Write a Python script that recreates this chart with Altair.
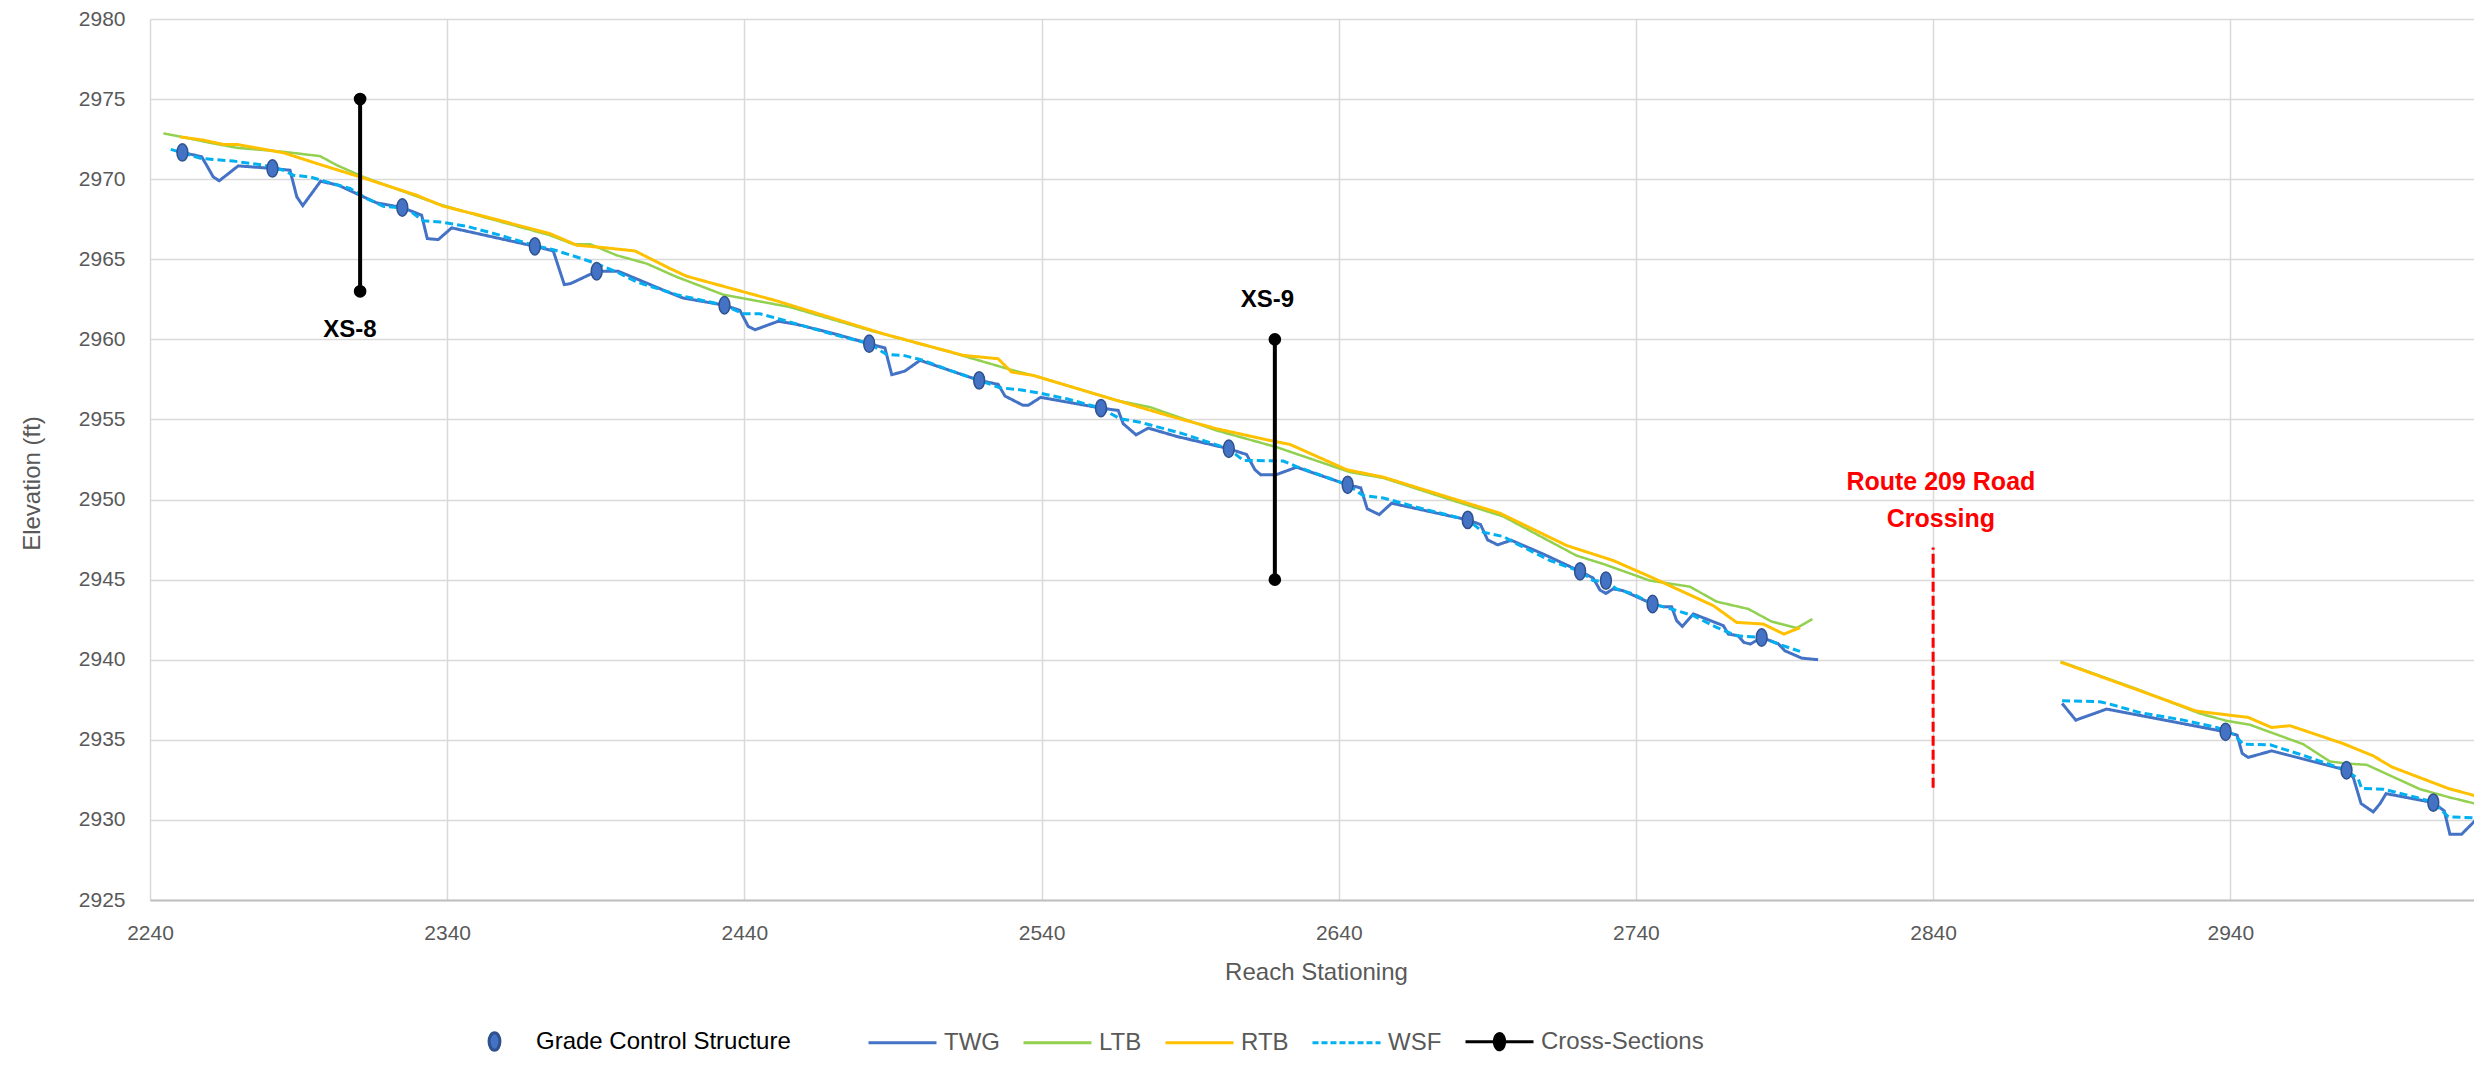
import altair as alt
import pandas as pd

FONT = "Liberation Sans"

# ---------------- data ----------------
gcs_name = "Grade Control Structure"
line_names = ["TWG", "LTB", "RTB", "WSF", "Cross-Sections"]

twg1_s = [2250.9, 2257.4, 2261.3, 2263.3, 2269.7, 2281.2, 2287.1, 2289.4, 2291.4, 2297.4, 2303.4, 2311.8,
          2316.3, 2324.9, 2331.4, 2333.3, 2337.0, 2341.5, 2369.5, 2375.7, 2379.4, 2381.5, 2390.3, 2397.6,
          2415.0, 2419.4, 2433.3, 2438.5, 2441.3, 2443.6, 2451.4, 2457.6, 2471.1, 2482.0, 2487.3, 2489.6,
          2494.0, 2499.1, 2519.0, 2525.4, 2527.7, 2533.8, 2535.5, 2539.7, 2560.0, 2565.8, 2567.5, 2571.8,
          2575.9, 2585.5, 2603.0, 2609.0, 2611.8, 2613.8, 2619.1, 2625.8, 2643.0, 2647.4, 2649.6, 2653.6,
          2657.8, 2683.4, 2687.7, 2690.1, 2693.5, 2698.0, 2708.8, 2721.2, 2725.6, 2727.9, 2729.9, 2732.4,
          2735.7, 2745.6, 2749.2, 2752.0, 2753.7, 2755.6, 2759.3, 2769.4, 2771.1, 2774.4, 2776.3, 2778.5,
          2782.3, 2787.9, 2790.1, 2795.8, 2801.3]
twg1_e = [2971.67, 2971.40, 2970.14, 2969.90, 2970.83, 2970.67, 2970.56, 2968.90, 2968.35, 2969.87, 2969.62, 2968.90,
          2968.52, 2968.23, 2967.75, 2966.29, 2966.23, 2966.96, 2965.81, 2965.52, 2963.42, 2963.48, 2964.25, 2964.25,
          2962.90, 2962.58, 2962.13, 2961.81, 2960.81, 2960.60, 2961.13, 2960.94, 2960.31, 2959.73, 2959.46, 2957.79,
          2958.02, 2958.69, 2957.44, 2957.19, 2956.46, 2955.88, 2955.88, 2956.38, 2955.71, 2955.56, 2954.73, 2954.04,
          2954.46, 2953.94, 2953.17, 2952.81, 2951.86, 2951.54, 2951.56, 2952.02, 2950.92, 2950.73, 2949.42, 2949.06,
          2949.77, 2948.73, 2948.44, 2947.48, 2947.17, 2947.46, 2946.60, 2945.52, 2945.10, 2944.35, 2944.14, 2944.42,
          2944.31, 2943.48, 2943.31, 2943.31, 2942.44, 2942.08, 2942.86, 2942.13, 2941.60, 2941.50, 2941.08, 2940.98,
          2941.39, 2941.00, 2940.56, 2940.10, 2940.00]
twg2_s = [2883.4, 2888.0, 2898.4, 2938.4, 2942.3, 2944.0, 2946.0, 2953.9, 2979.1, 2981.4, 2984.0, 2988.1,
          2990.4, 2992.4, 3008.3, 3012.0, 3013.9, 3017.8, 3022.3, 3024.6]
twg2_e = [2937.27, 2936.23, 2936.92, 2935.50, 2935.29, 2934.15, 2933.90, 2934.31, 2933.10, 2932.64, 2931.02, 2930.50,
          2931.02, 2931.64, 2931.08, 2930.56, 2929.10, 2929.10, 2929.94, 2929.83]

wsf1_s = [2247.0, 2257.4, 2268.0, 2278.1, 2284.9, 2288.2, 2293.8, 2299.5, 2307.3, 2312.9, 2318.5, 2324.9,
          2328.6, 2332.0, 2337.6, 2346.6, 2357.8, 2369.5, 2375.7, 2383.6, 2390.3, 2397.0, 2403.8, 2417.2,
          2433.3, 2439.6, 2445.2, 2451.4, 2471.1, 2482.0, 2487.9, 2493.5, 2500.2, 2509.2, 2519.0, 2526.0,
          2532.7, 2539.5, 2548.4, 2560.0, 2566.4, 2573.1, 2587.7, 2603.0, 2607.9, 2612.4, 2621.3, 2625.8,
          2643.0, 2648.2, 2655.0, 2666.2, 2683.4, 2688.6, 2695.4, 2699.9, 2711.1, 2721.2, 2725.6, 2729.9,
          2733.5, 2739.1, 2745.6, 2751.4, 2759.3, 2767.1, 2773.9, 2782.3, 2788.5, 2795.2]
wsf1_e = [2971.86, 2971.29, 2971.13, 2970.88, 2970.56, 2970.25, 2970.14, 2969.83, 2969.42, 2968.79, 2968.31, 2968.20,
          2967.86, 2967.40, 2967.33, 2967.06, 2966.50, 2965.85, 2965.60, 2965.14, 2964.73, 2964.21, 2963.58, 2962.79,
          2962.13, 2961.60, 2961.60, 2961.29, 2960.25, 2959.73, 2959.06, 2959.00, 2958.69, 2958.06, 2957.44, 2956.98,
          2956.85, 2956.64, 2956.29, 2955.71, 2955.04, 2954.83, 2954.10, 2953.17, 2952.44, 2952.44, 2952.40, 2952.06,
          2950.92, 2950.25, 2950.10, 2949.52, 2948.73, 2947.96, 2947.69, 2947.23, 2946.19, 2945.52, 2944.94, 2944.90,
          2944.42, 2944.10, 2943.48, 2943.20, 2942.75, 2942.02, 2941.50, 2941.39, 2940.94, 2940.52]
wsf2_s = [2883.4, 2896.1, 2899.5, 2909.6, 2924.2, 2935.4, 2941.0, 2944.4, 2953.4, 2963.4, 2979.1, 2983.1,
          2984.2, 2991.5, 3002.7, 3008.3, 3013.4, 3021.8, 3024.6]
wsf2_e = [2937.44, 2937.38, 2937.23, 2936.70, 2936.23, 2935.77, 2935.35, 2934.73, 2934.69, 2934.10, 2933.10, 2932.54,
          2931.96, 2931.92, 2931.40, 2931.10, 2930.19, 2930.14, 2929.94]

ltb1_s = [2244.5, 2250.7, 2260.2, 2269.2, 2284.9, 2297.2, 2302.8, 2311.8, 2324.1, 2336.5, 2352.2, 2374.6,
          2382.4, 2388.1, 2397.0, 2407.1, 2417.2, 2432.9, 2441.9, 2455.3, 2482.3, 2509.2, 2530.5, 2537.2,
          2565.3, 2576.5, 2598.9, 2619.1, 2643.8, 2655.0, 2677.4, 2695.4, 2720.0, 2729.0, 2744.7, 2758.2,
          2767.1, 2777.8, 2785.7, 2794.1, 2799.4]
ltb1_e = [2972.86, 2972.64, 2972.27, 2971.96, 2971.71, 2971.44, 2970.88, 2970.14, 2969.31, 2968.48, 2967.64, 2966.50,
          2965.94, 2965.94, 2965.25, 2964.73, 2963.90, 2962.79, 2962.48, 2962.02, 2960.56, 2959.21, 2958.06, 2957.75,
          2956.19, 2955.77, 2954.31, 2953.27, 2951.71, 2951.35, 2950.00, 2948.94, 2946.50, 2945.98, 2944.94, 2944.56,
          2943.63, 2943.17, 2942.38, 2941.98, 2942.54]
ltb2_s = [2882.9, 2909.6, 2929.8, 2938.7, 2946.6, 2964.5, 2973.5, 2979.1, 2985.9, 3003.8, 3013.9, 3024.6]
ltb2_e = [2939.88, 2938.10, 2936.64, 2936.19, 2935.94, 2934.73, 2933.65, 2933.52, 2933.44, 2931.92, 2931.40, 2930.92]

rtb1_s = [2250.1, 2257.9, 2264.7, 2269.2, 2284.9, 2296.1, 2310.7, 2329.7, 2338.7, 2352.2, 2374.6, 2383.6,
          2392.5, 2403.2, 2415.0, 2420.6, 2450.9, 2486.7, 2513.7, 2525.4, 2529.9, 2537.2, 2565.3, 2583.2,
          2598.9, 2616.8, 2623.6, 2642.7, 2655.0, 2694.2, 2716.7, 2732.4, 2744.7, 2766.0, 2773.9, 2782.8,
          2789.8, 2795.2]
rtb1_e = [2972.64, 2972.44, 2972.17, 2972.17, 2971.65, 2970.98, 2970.14, 2969.00, 2968.31, 2967.69, 2966.60, 2965.88,
          2965.73, 2965.52, 2964.42, 2963.94, 2962.40, 2960.35, 2959.00, 2958.79, 2957.96, 2957.75, 2956.19, 2955.21,
          2954.42, 2953.69, 2953.44, 2951.86, 2951.40, 2949.15, 2947.13, 2946.19, 2945.19, 2943.38, 2942.33, 2942.23,
          2941.60, 2942.00]
rtb2_s = [2882.9, 2928.6, 2946.0, 2953.9, 2960.1, 2977.9, 2988.1, 2994.3, 3013.4, 3024.6]
rtb2_e = [2939.85, 2936.79, 2936.40, 2935.77, 2935.88, 2934.77, 2934.00, 2933.31, 2931.96, 2931.40]

gcs_s = [2250.9, 2281.2, 2324.9, 2369.5, 2390.3, 2433.3, 2482.0, 2519.0, 2560.0, 2603.0, 2643.0, 2683.4,
         2721.2, 2729.9, 2745.6, 2782.3, 2938.4, 2979.1, 3008.3]
gcs_e = [2971.67, 2970.67, 2968.23, 2965.81, 2964.25, 2962.13, 2959.73, 2957.44, 2955.71, 2953.17, 2950.92, 2948.73,
         2945.52, 2944.94, 2943.48, 2941.39, 2935.50, 2933.10, 2931.08]

xs_names = ["XS-8", "XS-9"]
xs_station = [2310.7, 2618.5]
xs_bottom = [2963, 2945]
xs_top = [2975, 2960]
xs_label_station = [2307.3, 2616.0]
xs_label_elev = [2960.56, 2962.44]

road_station = [2840]
road_bottom = [2932]
road_top = [2947]
road_text = ["Route 209 Road", "Crossing"]
road_text_station = [2842.6, 2842.6]
road_text_elev = [2951.1, 2948.8]

x_ticks = [2240, 2340, 2440, 2540, 2640, 2740, 2840, 2940]
y_ticks = [2925, 2930, 2935, 2940, 2945, 2950, 2955, 2960, 2965, 2970, 2975, 2980]

# ---------------- frames ----------------
def line_frame(name, segments):
    rows = []
    for k, (xs, ys) in enumerate(segments):
        for s, e in zip(xs, ys):
            rows.append({"series": name, "seg": k, "station": s, "elev": e})
    return pd.DataFrame(rows)

lines = {
    "TWG": line_frame("TWG", [(twg1_s, twg1_e), (twg2_s, twg2_e)]),
    "LTB": line_frame("LTB", [(ltb1_s, ltb1_e), (ltb2_s, ltb2_e)]),
    "RTB": line_frame("RTB", [(rtb1_s, rtb1_e), (rtb2_s, rtb2_e)]),
    "WSF": line_frame("WSF", [(wsf1_s, wsf1_e), (wsf2_s, wsf2_e)]),
}
gcs_df = pd.DataFrame({"series": gcs_name, "station": gcs_s, "elev": gcs_e})
legend_only_df = pd.DataFrame({"series": pd.Series([], dtype=str),
                               "station": pd.Series([], dtype=float),
                               "elev": pd.Series([], dtype=float)})
xs_df = pd.DataFrame({"name": xs_names, "station": xs_station, "elev": xs_bottom, "elev2": xs_top})
xs_pts = pd.DataFrame({"station": xs_station + xs_station, "elev": xs_bottom + xs_top})
xs_lab = pd.DataFrame({"name": xs_names, "station": xs_label_station, "elev": xs_label_elev})
road_df = pd.DataFrame({"station": road_station, "elev": road_bottom, "elev2": road_top})
road_lab = pd.DataFrame({"t": road_text, "station": road_text_station, "elev": road_text_elev})

# ---------------- styles ----------------
line_color = {"TWG": "#4472C4", "LTB": "#92D050", "RTB": "#FFC000", "WSF": "#00B0F0"}
line_width = {"TWG": 3, "LTB": 2.5, "RTB": 3, "WSF": 3}
line_dash = {"TWG": [1, 0], "LTB": [1, 0], "RTB": [1, 0], "WSF": [8, 4]}

def ellipse_path(a, b, k=0.5523):
    return (f"M0,{-b}C{k*a:.4f},{-b} {a},{-k*b:.4f} {a},0C{a},{k*b:.4f} {k*a:.4f},{b} 0,{b}"
            f"C{-k*a:.4f},{b} {-a},{k*b:.4f} {-a},0C{-a},{-k*b:.4f} {-k*a:.4f},{-b} 0,{-b}Z")

ellipse = ellipse_path(0.16, 0.255)
cross_symbol = "M-1,0L1,0" + ellipse_path(0.15, 0.24)

leg_common = dict(title=None, orient="none", direction="horizontal", symbolSize=4624,
                  symbolStrokeWidth=3, symbolOpacity=1, labelFont=FONT, labelFontSize=24,
                  labelOffset=6, labelLimit=0, padding=0)
legend_gcs = alt.Legend(legendX=309, legendY=987, labelColor="#000000", **leg_common)
legend_lines = alt.Legend(legendX=717, legendY=987, labelColor="#595959", columnPadding=17, **leg_common)

X = alt.X("station:Q",
          scale=alt.Scale(domain=[2240, 3022], nice=False, zero=False),
          axis=alt.Axis(values=x_ticks, grid=True, gridColor="#D9D9D9", gridWidth=1.5,
                        domain=True, domainColor="#BFBFBF", domainWidth=2, ticks=False,
                        labelFont=FONT, labelFontSize=21, labelColor="#595959", labelPadding=22,
                        labelFlush=False, format="d",
                        titleFont=FONT, titleFontSize=24, titleFontWeight="normal", titleColor="#595959",
                        titleX=1166, titleY=72, titleAlign="center", titleBaseline="middle"),
          title="Reach Stationing")
Y = alt.Y("elev:Q",
          scale=alt.Scale(domain=[2925, 2980], nice=False, zero=False),
          axis=alt.Axis(values=y_ticks, grid=True, gridColor="#D9D9D9", gridWidth=1.5,
                        domain=False, ticks=False, format="d",
                        labelFont=FONT, labelFontSize=21, labelColor="#595959", labelPadding=25,
                        titleFont=FONT, titleFontSize=24, titleFontWeight="normal", titleColor="#595959",
                        titleX=-118, titleY=464, titleAngle=270, titleAlign="center", titleBaseline="middle"),
          title="Elevation (ft)")

layers = []
for name in ["TWG", "LTB", "RTB", "WSF"]:
    layers.append(
        alt.Chart(lines[name]).mark_line(color=line_color[name], strokeWidth=line_width[name],
                                         strokeDash=line_dash[name], clip=True)
        .encode(x=X, y=Y, detail="seg:N")
    )

# grade control structures (carry the first legend entry)
layers.append(
    alt.Chart(gcs_df).mark_point(filled=True, size=4624, strokeWidth=1.5, opacity=1, clip=True)
    .encode(
        x=X, y=Y,
        fill=alt.Fill("series:N", scale=alt.Scale(domain=[gcs_name], range=["#4472C4"]), legend=legend_gcs),
        stroke=alt.Stroke("series:N", scale=alt.Scale(domain=[gcs_name], range=["#2F528F"]), legend=legend_gcs),
        shape=alt.Shape("series:N", scale=alt.Scale(domain=[gcs_name], range=[ellipse]), legend=legend_gcs),
    )
)

# legend for the line series and cross-sections (no marks drawn)
layers.append(
    alt.Chart(legend_only_df).mark_point(filled=True, size=4624, opacity=1, clip=True)
    .encode(
        x=X, y=Y,
        fill=alt.Fill("series:N", scale=alt.Scale(domain=line_names,
                      range=["#4472C4", "#92D050", "#FFC000", "#00B0F0", "#000000"]), legend=legend_lines),
        stroke=alt.Stroke("series:N", scale=alt.Scale(domain=line_names,
                          range=["#4472C4", "#92D050", "#FFC000", "#00B0F0", "#000000"]), legend=legend_lines),
        shape=alt.Shape("series:N", scale=alt.Scale(domain=line_names,
                        range=["stroke", "stroke", "stroke", "stroke", cross_symbol]), legend=legend_lines),
        strokeDash=alt.StrokeDash("series:N", scale=alt.Scale(domain=line_names,
                                  range=[[1, 0], [1, 0], [1, 0], [6, 3], [1, 0]]), legend=legend_lines),
    )
)

layers.append(
    alt.Chart(xs_df).mark_rule(color="black", strokeWidth=4).encode(x=X, y=Y, y2="elev2:Q")
)
layers.append(
    alt.Chart(xs_pts).mark_circle(color="black", size=160, opacity=1).encode(x=X, y=Y)
)
layers.append(
    alt.Chart(road_df).mark_rule(color="#FF0000", strokeWidth=3, strokeDash=[10, 4]).encode(x=X, y=Y, y2="elev2:Q")
)
layers.append(
    alt.Chart(xs_lab).mark_text(font=FONT, fontSize=24, fontWeight="bold", color="black",
                                align="center", baseline="middle")
    .encode(x=X, y=Y, text="name:N")
)
layers.append(
    alt.Chart(road_lab).mark_text(font=FONT, fontSize=25, fontWeight="bold", color="#FF0000",
                                  align="center", baseline="middle")
    .encode(x=X, y=Y, text="t:N")
)

chart = (
    alt.layer(*layers)
    .resolve_scale(fill="independent", stroke="independent", shape="independent",
                   strokeDash="independent")
    .properties(width=2324, height=881,
                autosize=alt.AutoSizeParams(type="none"),
                padding={"left": 142, "top": 11, "right": 0, "bottom": 158})
    .configure_view(stroke=None)
)

chart.save("out.html", embed_options={"renderer": "svg", "actions": False})
